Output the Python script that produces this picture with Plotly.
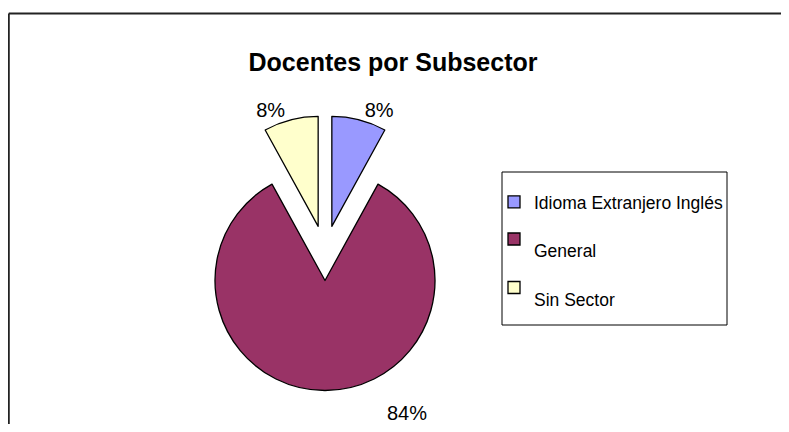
import plotly.graph_objects as go

# Data
categories = ["Idioma Extranjero Inglés", "General", "Sin Sector"]
legend_labels = ["Idioma Extranjero Inglés", "<br>General", "<br>Sin Sector"]
docentes = [2, 21, 2]
colors = ["#9999FF", "#993366", "#FFFFCC"]

OFF = 8  # page body margin in the rendered html
W, H = 789 - 2 * OFF, 432 - 2 * OFF  # keep the page from overflowing the window
FONT = "Liberation Sans, Arial, sans-serif"


def px(x):
    return (x - OFF) / W


def py(y):
    return 1 - (y - OFF) / H


total = sum(docentes)

fig = go.Figure(go.Pie(
    labels=legend_labels,
    values=docentes,
    customdata=categories,
    sort=False,
    direction="clockwise",
    rotation=0,
    pull=[0.25, 0.25, 0.25],
    marker=dict(colors=colors, line=dict(color="#000000", width=1.3)),
    # the big slice gets its label placed Excel-style below (annotation)
    texttemplate=["%{percent:.0%}", "", "%{percent:.0%}"],
    textposition="outside",
    textfont=dict(family=FONT, size=20, color="#000000"),
    hovertemplate="%{customdata}: %{value}<extra></extra>",
    domain=dict(x=[px(187.5), px(462.5)], y=[py(390.5), py(115.5)]),
))

fig.add_annotation(
    text=f"{docentes[1] / total:.0%}", showarrow=False,
    xref="paper", yref="paper", x=px(407), y=py(413),
    xanchor="center", yanchor="middle",
    font=dict(family=FONT, size=20, color="#000000"),
)

fig.update_layout(
    width=W, height=H,
    margin=dict(l=0, r=0, t=0, b=0, autoexpand=False),
    paper_bgcolor="white",
    plot_bgcolor="white",
    font=dict(family=FONT, color="#000000"),
    title=dict(text="<b>Docentes por Subsector</b>", x=px(393), xanchor="center",
               y=py(62), yanchor="middle", font=dict(family=FONT, size=25)),
    showlegend=True,
    legend=dict(
        x=px(494), y=py(184), xanchor="left", yanchor="top",
        font=dict(family=FONT, size=17.5, color="#000000"),
        bgcolor="rgba(0,0,0,0)", borderwidth=0,
        valign="middle", itemwidth=30,
    ),
    shapes=[
        # outer chart frame: only top and left edges are inside the picture
        dict(type="line", xref="paper", yref="paper",
             x0=0.001, x1=1.0, y0=py(13.5), y1=py(13.5),
             line=dict(color="#222222", width=2)),
        dict(type="line", xref="paper", yref="paper",
             x0=0.001, x1=0.001, y0=0.0, y1=py(13.5),
             line=dict(color="#222222", width=2)),
        # legend frame
        dict(type="rect", xref="paper", yref="paper",
             x0=px(502), x1=px(727), y0=py(325), y1=py(172),
             line=dict(color="#000000", width=1)),
    ],
)

fig.write_html("out.html")
